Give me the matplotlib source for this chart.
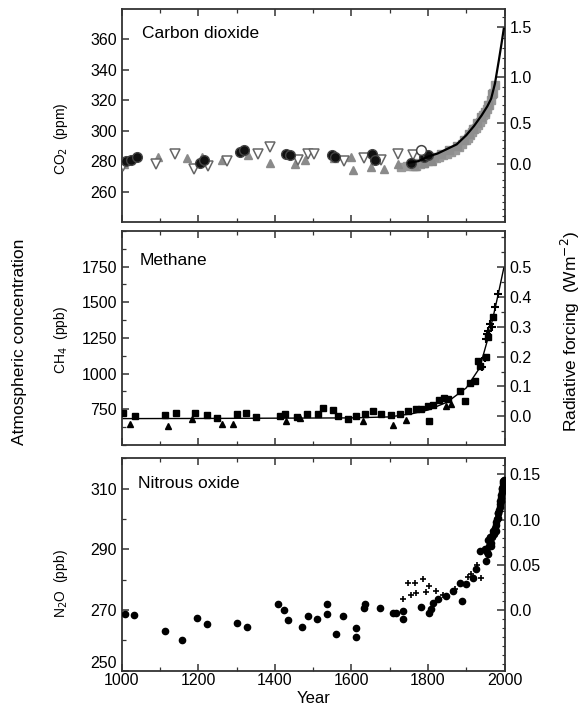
import numpy as np
import matplotlib
matplotlib.use("Agg")
import matplotlib.pyplot as plt
from matplotlib.ticker import MultipleLocator, FixedLocator

plt.rcParams['font.family'] = ['Liberation Sans', 'DejaVu Sans']

# ---------------- data ----------------
# CO2 (ppm)
co2_circ_year = [1010, 1025, 1040, 1205, 1215, 1310, 1320, 1430, 1440, 1550, 1558, 1655, 1662, 1755, 1790, 1800]
co2_circ_val = [280, 281, 283, 279, 281, 286, 287, 285, 284, 284, 283, 285, 281, 279, 283, 284]

co2_tri_year = [1005, 1095, 1170, 1210, 1262, 1330, 1387, 1452, 1480, 1555, 1600, 1604, 1651, 1686, 1721, 1765, 1790, 1810]
co2_tri_val = [278, 283, 282, 283, 281, 284, 279, 278, 281, 282, 283, 274, 276, 275, 278, 277, 279, 280]

co2_itri_year = [1003, 1090, 1140, 1188, 1226, 1274, 1356, 1387, 1460, 1486, 1503, 1582, 1634, 1677, 1721, 1760]
co2_itri_val = [277, 278, 285, 275, 277, 280, 285, 289, 281, 285, 285, 280, 282, 281, 285, 284]

co2_ocirc_year = [1782]
co2_ocirc_val = [287]

co2_gray_year = [1730, 1745, 1760, 1770, 1780, 1790, 1800, 1810, 1820, 1830, 1840, 1850, 1860, 1870,
                 1880, 1890, 1900, 1905, 1910, 1915, 1920, 1925, 1930, 1935, 1940, 1945, 1950, 1955,
                 1960, 1965, 1970, 1975]
co2_gray_val = [276, 277, 277, 277, 278, 279, 280, 281, 282, 283, 284, 285, 286, 287,
                289, 291, 294, 295, 297, 299, 301, 302, 304, 306, 308, 310, 311, 314,
                317, 320, 325, 330]
co2_gray2_year = [1775, 1795, 1815, 1835, 1855, 1875, 1895, 1908, 1918, 1928, 1938, 1948, 1958, 1968]
co2_gray2_val = [279, 281, 283, 285, 287, 290, 294, 298, 301, 305, 309, 312, 317, 324]

co2_line_year = [1750, 1775, 1800, 1825, 1850, 1875, 1900, 1920, 1940, 1955, 1965, 1975, 1985, 1992, 1998]
co2_line_val = [279, 280, 283, 285, 288, 291, 297, 303, 310, 316, 321, 331, 346, 357, 367]

# CH4 (ppb)
ch4_line_year = [1000, 1200, 1400, 1600, 1700, 1760, 1800, 1850, 1900, 1935, 1957, 1970, 1983, 1998]
ch4_line_val = [685, 686, 688, 690, 697, 720, 745, 800, 900, 1040, 1250, 1395, 1550, 1740]

ch4_sq_year = [1004, 1035, 1113, 1143, 1191, 1222, 1248, 1300, 1326, 1352, 1413, 1426, 1457, 1483,
               1513, 1526, 1552, 1565, 1591, 1613, 1635, 1657, 1678, 1704, 1726, 1748, 1770, 1783,
               1800, 1804, 1813, 1830, 1843, 1852, 1883, 1896, 1909, 1922, 1930, 1935, 1952, 1957, 1970]
ch4_sq_val = [726, 703, 710, 726, 726, 708, 691, 715, 726, 696, 703, 719, 696, 715,
              715, 762, 743, 703, 679, 703, 715, 738, 719, 708, 715, 738, 750, 750,
              774, 668, 781, 814, 832, 820, 879, 809, 938, 950, 1091, 1056, 1115, 1256, 1397]

ch4_tri_year = [1022, 1122, 1183, 1261, 1291, 1430, 1465, 1630, 1709, 1743, 1848, 1860]
ch4_tri_val = [644, 632, 679, 644, 644, 668, 691, 668, 637, 675, 774, 790]

ch4_plus_year = [1940, 1948, 1952, 1954, 1958, 1962, 1966, 1975, 1982]
ch4_plus_val = [1050, 1110, 1240, 1280, 1300, 1350, 1330, 1470, 1560]

# N2O (ppb)
n2o_dot_year = [1009, 1032, 1113, 1157, 1196, 1222, 1300, 1328, 1409, 1424, 1435, 1470, 1487, 1510,
                1535, 1535, 1559, 1578, 1613, 1613, 1632, 1635, 1674, 1709, 1716, 1735, 1735,
                1783, 1804, 1809, 1813, 1826, 1848, 1865, 1889, 1883, 1900, 1917, 1926, 1935,
                1952, 1957, 1965, 1970, 1978, 1983, 1989, 1994, 1996]
n2o_dot_val = [268.6, 268.4, 263.1, 260.0, 267.3, 265.3, 265.6, 264.5, 272.1, 269.9, 266.6, 264.5, 268.0, 266.9,
               272.1, 268.6, 262.0, 268.0, 264.0, 261.1, 270.8, 271.9, 270.8, 268.9, 268.9, 266.9, 269.7,
               271.1, 269.1, 270.2, 272.4, 273.5, 274.6, 276.3, 273.0, 279.0, 278.5, 280.7, 283.4, 289.4,
               286.2, 288.4, 291.1, 295.0, 296.0, 300.4, 305.9, 310.3, 312.5]

n2o_band_year = [1950, 1955, 1958, 1960, 1962, 1965, 1968, 1970, 1972, 1975, 1977, 1978, 1980, 1982,
                 1984, 1985, 1987, 1988, 1990, 1991, 1992, 1993, 1994, 1995, 1996, 1997, 1998]
n2o_band_val = [290, 289, 293, 291, 294, 292, 294, 296, 295, 297, 299, 298, 300, 302,
                302, 303, 304, 305, 306, 307, 308, 309, 310, 310, 311, 312, 313]

n2o_plus_year = [1735, 1748, 1757, 1765, 1770, 1787, 1795, 1804, 1822, 1840, 1870, 1905, 1912, 1928, 1939]
n2o_plus_val = [273.5, 279.0, 275.0, 278.8, 275.7, 280.1, 276.0, 277.9, 276.3, 275.0, 277.0, 281.0, 282.0, 285.0, 280.7]

# axis ticks / labels
year_ticks = [1000, 1200, 1400, 1600, 1800, 2000]
co2_ticks = [260, 280, 300, 320, 340, 360]
ch4_ticks = [750, 1000, 1250, 1500, 1750]
n2o_ticks = [250, 270, 290, 310]
co2_rf_ticks = [0.0, 0.5, 1.0, 1.5]
co2_rf_labels = ['0.0', '0.5', '1.0', '1.5']
ch4_rf_ticks = [0.0, 0.1, 0.2, 0.3, 0.4, 0.5]
ch4_rf_labels = ['0.0', '0.1', '0.2', '0.3', '0.4', '0.5']
n2o_rf_ticks = [0.0, 0.05, 0.10, 0.15]
n2o_rf_labels = ['0.0', '0.05', '0.10', '0.15']

# ---------------- figure ----------------
fig = plt.figure(figsize=(5.87, 7.12), dpi=100)
L, R = 0.2073, 0.8595
ax1 = fig.add_axes([L, 0.6882, R - L, 0.9874 - 0.6882])
ax2 = fig.add_axes([L, 0.3750, R - L, 0.6756 - 0.3750])
ax3 = fig.add_axes([L, 0.0580, R - L, 0.3563 - 0.0580])

TFS = 11.5
spine_c = '#333333'


def style(ax):
    for s in ax.spines.values():
        s.set_linewidth(1.3)
        s.set_color(spine_c)
    ax.set_xlim(1000, 2000)
    ax.xaxis.set_major_locator(FixedLocator(year_ticks))
    ax.xaxis.set_minor_locator(MultipleLocator(100))
    ax.tick_params(axis='both', which='both', direction='in', top=True, right=False,
                   labelsize=TFS, color=spine_c)
    ax.tick_params(which='major', length=5, width=1.1)
    ax.tick_params(which='minor', length=3, width=0.9)


# CO2 panel
ax1.plot(co2_gray_year, co2_gray_val, 's', color='#999999', ms=5.5, mec='#999999', zorder=2)
ax1.plot(co2_gray2_year, co2_gray2_val, 's', color='#8f8f8f', ms=5.5, mec='#8f8f8f', zorder=2)
ax1.plot(co2_tri_year, co2_tri_val, '^', color='#8a8a8a', ms=6, mec='#8a8a8a', zorder=3)
ax1.plot(co2_itri_year, co2_itri_val, 'v', mfc='white', mec='#666666', ms=6.5, mew=1.1, zorder=3)
ax1.plot(co2_circ_year, co2_circ_val, 'o', color='#111111', ms=7, mec='#444444', zorder=4)
ax1.plot(co2_ocirc_year, co2_ocirc_val, 'o', mfc='white', mec='#444444', ms=7, mew=1.1, zorder=4)
ax1.plot(co2_line_year, co2_line_val, '-', color='black', lw=1.6, zorder=5)
style(ax1)
ax1.set_ylim(240, 380)
ax1.set_yticks(co2_ticks)
ax1.tick_params(labelbottom=False)
ax1.text(0.052, 0.887, 'Carbon dioxide', transform=ax1.transAxes, fontsize=12.5, va='center')


def co2_f(c):
    return 5.35 * np.log(np.clip(c, 1e-6, None) / 278.0)


def co2_i(f):
    return 278.0 * np.exp(f / 5.35)


s1 = ax1.secondary_yaxis('right', functions=(co2_f, co2_i))
s1.set_yticks(co2_rf_ticks, labels=co2_rf_labels)
s1.yaxis.set_minor_locator(MultipleLocator(0.1))
s1.tick_params(which='both', direction='in', labelsize=TFS, color=spine_c)
s1.tick_params(which='major', length=6, width=1.1)
s1.tick_params(which='minor', length=2.5, width=0.8)
s1.spines['right'].set_visible(False)

# CH4 panel
ax2.plot(ch4_line_year, ch4_line_val, '-', color='black', lw=1.0, zorder=2)
ax2.plot(ch4_tri_year, ch4_tri_val, '^', color='black', ms=4, zorder=3)
ax2.plot(ch4_sq_year, ch4_sq_val, 's', color='black', ms=4.5, zorder=3)
ax2.plot(ch4_plus_year, ch4_plus_val, '+', color='black', ms=6, mew=1.5, zorder=3)
style(ax2)
ax2.set_ylim(500, 2000)
ax2.set_yticks(ch4_ticks)
ax2.yaxis.set_minor_locator(MultipleLocator(125))
ax2.tick_params(labelbottom=False)
ax2.text(0.048, 0.864, 'Methane', transform=ax2.transAxes, fontsize=12.5, va='center')


def ch4_f(m):
    return (np.asarray(m) - 700.0) / 2100.0


def ch4_i(f):
    return np.asarray(f) * 2100.0 + 700.0


s2 = ax2.secondary_yaxis('right', functions=(ch4_f, ch4_i))
s2.set_yticks(ch4_rf_ticks, labels=ch4_rf_labels)
s2.yaxis.set_minor_locator(MultipleLocator(0.05))
s2.tick_params(which='both', direction='in', labelsize=TFS, color=spine_c)
s2.tick_params(which='major', length=6, width=1.1)
s2.tick_params(which='minor', length=3, width=0.9)
s2.spines['right'].set_visible(False)

# N2O panel
ax3.plot(n2o_plus_year, n2o_plus_val, '+', color='black', ms=4.5, mew=1.2, zorder=3)
ax3.plot(n2o_band_year, n2o_band_val, 'o', color='black', ms=4.5, zorder=3)
ax3.plot(n2o_dot_year, n2o_dot_val, 'o', color='black', ms=4.5, zorder=3)
style(ax3)
ax3.set_ylim(250, 320)
ax3.set_yticks(n2o_ticks)
ax3.yaxis.set_minor_locator(MultipleLocator(10))
ax3.tick_params(axis='x', pad=2)
ax3.set_xlabel('Year', fontsize=12, labelpad=2)
ax3.text(0.043, 0.882, 'Nitrous oxide', transform=ax3.transAxes, fontsize=12.5, va='center')
ax3.get_yticklabels()[0].set_va('bottom')


def n2o_f(n):
    return (np.asarray(n) - 270.0) / 298.0


def n2o_i(f):
    return np.asarray(f) * 298.0 + 270.0


s3 = ax3.secondary_yaxis('right', functions=(n2o_f, n2o_i))
s3.set_yticks(n2o_rf_ticks, labels=n2o_rf_labels)
s3.yaxis.set_minor_locator(MultipleLocator(0.01))
s3.tick_params(which='both', direction='in', labelsize=TFS, color=spine_c)
s3.tick_params(which='major', length=6, width=1.1)
s3.tick_params(which='minor', length=2.5, width=0.8)
s3.spines['right'].set_visible(False)

# axis labels
fig.text(0.104, 0.805, 'CO$_2$  (ppm)', rotation=90, fontsize=10, ha='center', va='center')
fig.text(0.104, 0.522, 'CH$_4$  (ppb)', rotation=90, fontsize=10, ha='center', va='center')
fig.text(0.104, 0.18, 'N$_2$O  (ppb)', rotation=90, fontsize=10, ha='center', va='center')
fig.text(0.033, 0.52, 'Atmospheric concentration', rotation=90, fontsize=12.5, ha='center', va='center')
fig.text(0.971, 0.534, 'Radiative forcing  (Wm$^{-2}$)', rotation=90, fontsize=12.5, ha='center', va='center')

fig.savefig('out.png', dpi=100)
